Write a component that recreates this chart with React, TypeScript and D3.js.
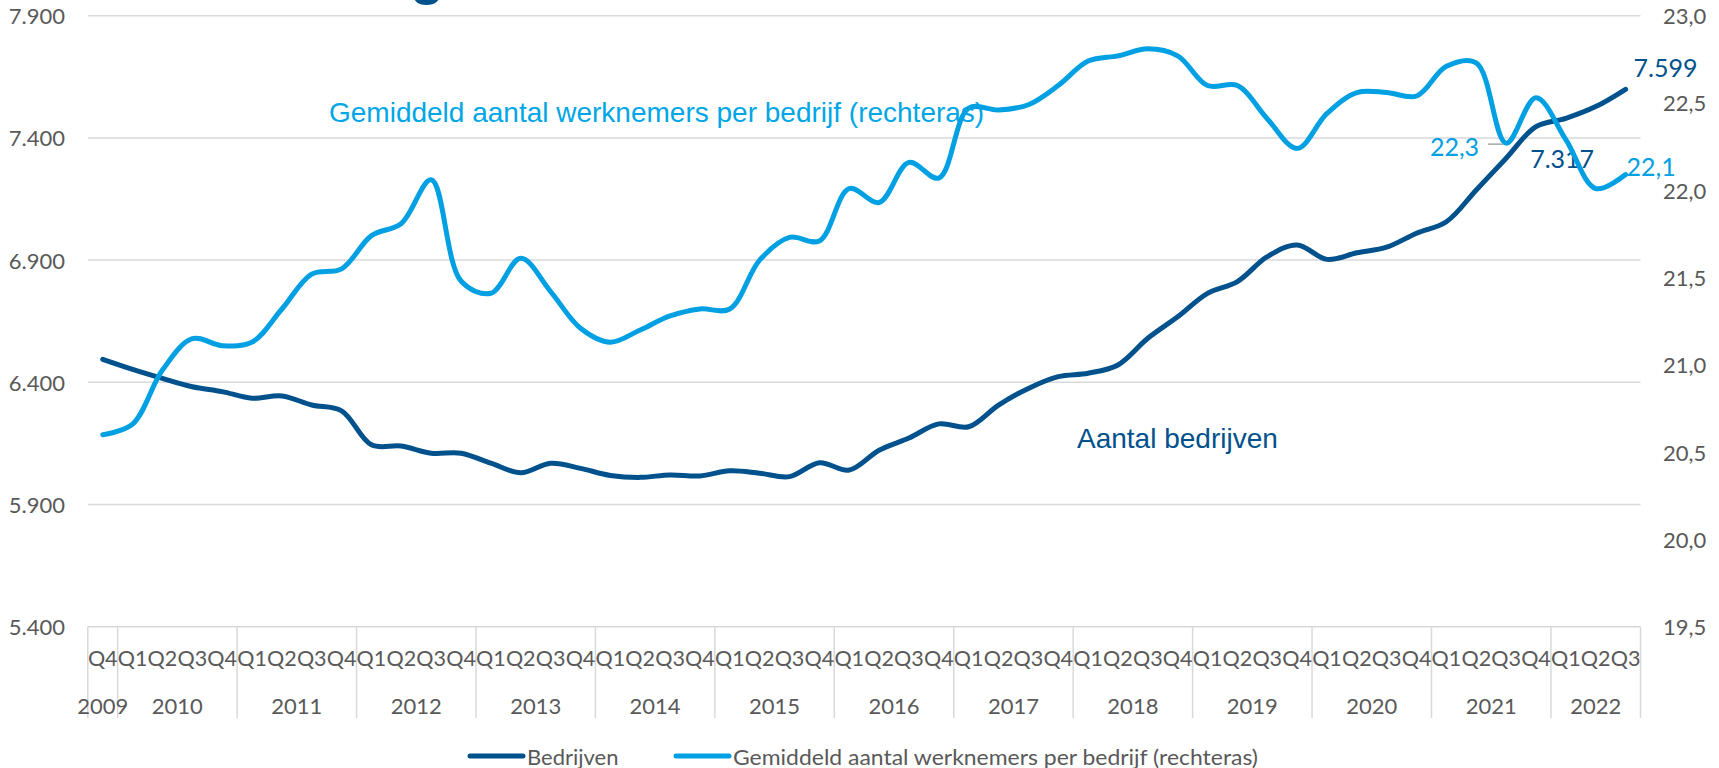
import React from "react";
import * as d3 from "d3";

// ---- data ----
const years = ["2009", "2010", "2011", "2012", "2013", "2014", "2015", "2016", "2017", "2018", "2019", "2020", "2021", "2022"];
const quarterSets = [
  ["Q4"],
  ["Q1", "Q2", "Q3", "Q4"],
  ["Q1", "Q2", "Q3", "Q4"],
  ["Q1", "Q2", "Q3", "Q4"],
  ["Q1", "Q2", "Q3", "Q4"],
  ["Q1", "Q2", "Q3", "Q4"],
  ["Q1", "Q2", "Q3", "Q4"],
  ["Q1", "Q2", "Q3", "Q4"],
  ["Q1", "Q2", "Q3", "Q4"],
  ["Q1", "Q2", "Q3", "Q4"],
  ["Q1", "Q2", "Q3", "Q4"],
  ["Q1", "Q2", "Q3", "Q4"],
  ["Q1", "Q2", "Q3", "Q4"],
  ["Q1", "Q2", "Q3"],
];

// Bedrijven (left axis)
const bedrijven = [
  6494,
  6453, 6416, 6382, 6362,
  6335, 6344, 6307, 6283,
  6144, 6139, 6110, 6110,
  6069, 6030, 6069, 6048,
  6019, 6011, 6021, 6017,
  6038, 6028, 6014, 6071,
  6041, 6122, 6172, 6230,
  6218, 6307, 6375, 6423,
  6437, 6471, 6580, 6668,
  6764, 6812, 6914, 6962,
  6903, 6930, 6953, 7010,
  7057, 7187, 7317, 7446,
  7480, 7528, 7599,
];

// Gemiddeld aantal werknemers per bedrijf (right axis)
const werknemers = [
  20.6,
  20.66, 20.97, 21.15, 21.11,
  21.13, 21.32, 21.52, 21.55,
  21.74, 21.81, 22.06, 21.48,
  21.41, 21.61, 21.42, 21.21,
  21.13, 21.2, 21.28, 21.32,
  21.32, 21.6, 21.73, 21.71,
  22.01, 21.93, 22.16, 22.07,
  22.47, 22.46, 22.49, 22.6,
  22.74, 22.77, 22.81, 22.77,
  22.6, 22.6, 22.41, 22.24,
  22.44, 22.56, 22.56, 22.54,
  22.71, 22.73, 22.27, 22.53,
  22.29, 22.01, 22.09,
];

const leftTicks = [5400, 5900, 6400, 6900, 7400, 7900];
const rightTicks = [19.5, 20, 20.5, 21, 21.5, 22, 22.5, 23];
const seriesNames = ["Bedrijven", "Gemiddeld aantal werknemers per bedrijf (rechteras)"];
const annotationLeft = "Aantal bedrijven";
const annotationRight = "Gemiddeld aantal werknemers per bedrijf (rechteras)";

// ---- styling ----
const W = 1719;
const H = 768;
const DARK = "#00518C";
const LIGHT = "#00A0E3";
const LIGHT_TEXT = "#00A6E6";
const AXIS_TEXT = "#595959";
const GRID = "#D9D9D9";
const AXIS_FONT = "Lato, 'Open Sans', sans-serif";
const ARIAL = "'Liberation Sans', Arial, sans-serif";

const nl = d3.formatLocale({ decimal: ",", thousands: ".", grouping: [3], currency: ["€", ""] });
const fmtLeft = nl.format(",.0f");
const fmtRight = nl.format(".1f");

export default function App() {
  const categories: string[] = years.flatMap((y, i) => quarterSets[i].map((q) => `${y} ${q}`));
  const quarterLabels: string[] = quarterSets.flat();

  const plotLeft = 87.8;
  const plotRight = 1640.5;
  const plotTop = 15.7;
  const plotBottom = 626.7;

  const x = d3.scaleBand<string>().domain(categories).range([plotLeft, plotRight]).padding(0);
  const bw = x.bandwidth();
  const cx = (i: number) => (x(categories[i]) as number) + bw / 2;

  const yL = d3.scaleLinear().domain([5400, 7900]).range([plotBottom, plotTop]);
  const yR = d3.scaleLinear().domain([19.5, 23]).range([plotBottom, plotTop]);

  const curve = d3.curveCatmullRom.alpha(0.5);
  const darkPath = d3
    .line<number>()
    .x((_, i) => cx(i))
    .y((d) => yL(d))
    .curve(curve)(bedrijven) as string;
  const lightPath = d3
    .line<number>()
    .x((_, i) => cx(i))
    .y((d) => yR(d))
    .curve(curve)(werknemers) as string;

  // year group boundaries
  let acc = 0;
  const groups = years.map((y, i) => {
    const start = acc;
    acc += quarterSets[i].length;
    return { year: y, start, end: acc };
  });
  const boundaryX = (idx: number) =>
    idx >= categories.length ? plotRight : (x(categories[idx]) as number);

  const last = bedrijven.length - 1;
  const labelIdx = 47; // 2021 Q3

  return (
    <svg
      width={W}
      height={H}
      viewBox={`0 0 ${W} ${H}`}
      style={{ position: "absolute", left: 0, top: 0, background: "#fff" }}
    >
      <rect x={0} y={0} width={W} height={H} fill="#fff" />

      {/* cut-off title fragment (the title itself lies above the visible area) */}
      <text x={410} y={-7} fontFamily={ARIAL} fontWeight="bold" fontSize={56} fill={DARK}>
        g
      </text>

      {/* gridlines */}
      {leftTicks.map((t) => (
        <line key={t} x1={plotLeft} x2={plotRight} y1={yL(t)} y2={yL(t)} stroke={GRID} strokeWidth={1.5} />
      ))}

      {/* left axis labels */}
      {leftTicks.map((t) => (
        <text
          key={"l" + t}
          x={65}
          y={yL(t)}
          textAnchor="end"
          dominantBaseline="central"
          fontFamily={AXIS_FONT}
          fontSize={22}
          fill={AXIS_TEXT}
        >
          {fmtLeft(t)}
        </text>
      ))}

      {/* right axis labels */}
      {rightTicks.map((t) => (
        <text
          key={"r" + t}
          x={1663}
          y={yR(t)}
          textAnchor="start"
          dominantBaseline="central"
          fontFamily={AXIS_FONT}
          fontSize={22}
          fill={AXIS_TEXT}
        >
          {fmtRight(t)}
        </text>
      ))}

      {/* category axis separators */}
      {groups.map((g) => (
        <line
          key={"s" + g.year}
          x1={boundaryX(g.start)}
          x2={boundaryX(g.start)}
          y1={plotBottom}
          y2={718}
          stroke={GRID}
          strokeWidth={1.5}
        />
      ))}
      <line x1={plotRight} x2={plotRight} y1={plotBottom} y2={718} stroke={GRID} strokeWidth={1.5} />

      {/* quarter labels */}
      {categories.map((c, i) => (
        <text
          key={"q" + c}
          x={cx(i)}
          y={658}
          textAnchor="middle"
          dominantBaseline="central"
          fontFamily={AXIS_FONT}
          fontSize={21.5}
          fill={AXIS_TEXT}
        >
          {quarterLabels[i]}
        </text>
      ))}

      {/* year labels */}
      {groups.map((g) => (
        <text
          key={"y" + g.year}
          x={(boundaryX(g.start) + boundaryX(g.end)) / 2}
          y={705}
          textAnchor="middle"
          dominantBaseline="central"
          fontFamily={AXIS_FONT}
          fontSize={22}
          fill={AXIS_TEXT}
        >
          {g.year}
        </text>
      ))}

      {/* in-plot annotations */}
      <text x={329} y={121.5} fontFamily={ARIAL} fontSize={28} fill={LIGHT_TEXT}>
        {annotationRight}
      </text>
      <text x={1077} y={448} fontFamily={ARIAL} fontSize={28} fill={DARK}>
        {annotationLeft}
      </text>

      {/* series */}
      <path d={darkPath} fill="none" stroke={DARK} strokeWidth={5} strokeLinecap="round" strokeLinejoin="round" />

      <text
        x={cx(labelIdx) + 24}
        y={yL(bedrijven[labelIdx])}
        dominantBaseline="central"
        fontFamily={AXIS_FONT}
        fontSize={25}
        fill={DARK}
      >
        {fmtLeft(bedrijven[labelIdx])}
      </text>

      <path d={lightPath} fill="none" stroke={LIGHT} strokeWidth={5} strokeLinecap="round" strokeLinejoin="round" />

      {/* data labels */}
      <text
        x={cx(last) + 8}
        y={yL(bedrijven[last]) - 22}
        dominantBaseline="central"
        fontFamily={AXIS_FONT}
        fontSize={25}
        fill={DARK}
      >
        {fmtLeft(bedrijven[last])}
      </text>
      <line
        x1={cx(labelIdx) - 18}
        x2={cx(labelIdx) - 3}
        y1={yR(werknemers[labelIdx]) + 1}
        y2={yR(werknemers[labelIdx]) + 1}
        stroke="#A6A6A6"
        strokeWidth={1.5}
      />
      <text
        x={cx(labelIdx) - 27}
        y={yR(werknemers[labelIdx]) + 2.5}
        textAnchor="end"
        dominantBaseline="central"
        fontFamily={AXIS_FONT}
        fontSize={25}
        fill={LIGHT}
      >
        {fmtRight(werknemers[labelIdx])}
      </text>
      <text
        x={cx(last) + 1}
        y={yR(werknemers[last]) - 9}
        dominantBaseline="central"
        fontFamily={AXIS_FONT}
        fontSize={25}
        fill={LIGHT}
      >
        {fmtRight(werknemers[last])}
      </text>

      {/* legend */}
      <line x1={470} x2={523} y1={756} y2={756} stroke={DARK} strokeWidth={5} strokeLinecap="round" />
      <text x={527} y={756} dominantBaseline="central" fontFamily={AXIS_FONT} fontSize={22} fill={AXIS_TEXT}>
        {seriesNames[0]}
      </text>
      <line x1={676} x2={729} y1={756} y2={756} stroke={LIGHT} strokeWidth={5} strokeLinecap="round" />
      <text
        x={733}
        y={756}
        dominantBaseline="central"
        fontFamily={AXIS_FONT}
        fontSize={22}
        fill={AXIS_TEXT}
        textLength={525}
        lengthAdjust="spacingAndGlyphs"
      >
        {seriesNames[1]}
      </text>
    </svg>
  );
}
